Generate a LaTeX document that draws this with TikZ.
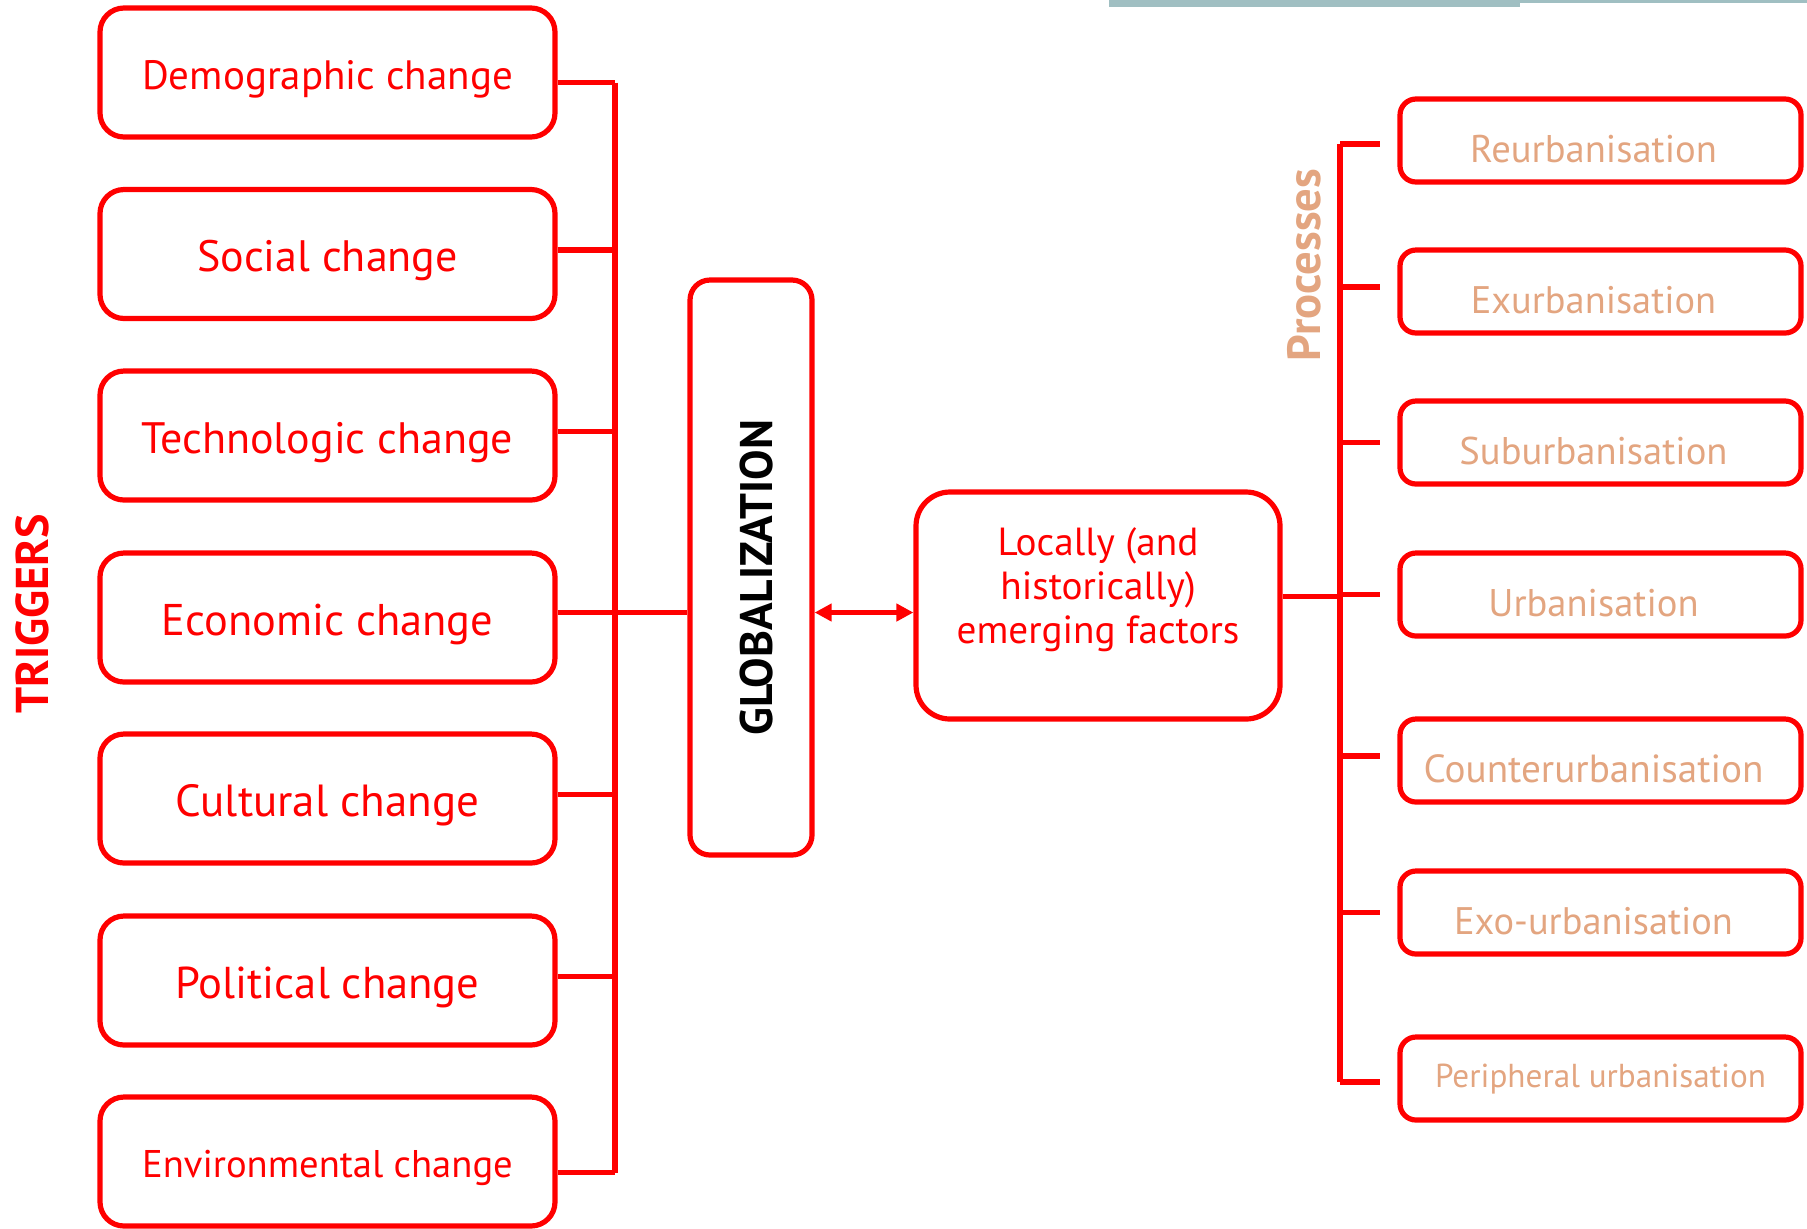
\documentclass[tikz,border=0pt]{standalone}
\usepackage{fontspec}
\setmainfont{PT Sans}
\usetikzlibrary{arrows.meta}
\definecolor{rd}{RGB}{255,0,0}
\definecolor{sal}{RGB}{227,165,128}
\definecolor{barc}{RGB}{160,191,194}
\newcommand{\fs}[1]{\fontsize{#1}{1.2\dimexpr #1pt\relax}\selectfont}
% centre the capitals, then lower them by #1
\newcommand{\sh}[2]{\raisebox{\dimexpr-0.35em-#1\relax}[0pt][0pt]{#2}}
\newcommand{\ltxt}[1]{\sh{1.2pt}{#1}}
\newcommand{\rtxt}[1]{\hspace*{-7pt}\sh{4.2pt}{#1}}
\begin{document}
\begin{tikzpicture}[x=0.5pt,y=-0.5pt,
  box/.style={draw=rd, line width=2.6pt, rounded corners=12pt, text=rd, align=center, inner sep=0pt},
  lbox/.style={box, minimum width=227.5pt, minimum height=64.5pt},
  rbox/.style={box, rounded corners=8pt, minimum width=200.5pt, minimum height=41.5pt, text=sal},
  conn/.style={draw=rd, line width=2.6pt},
  tip/.style={{Triangle[length=8.5pt,width=8.5pt]}-{Triangle[length=8.5pt,width=8.5pt]}}
]
\useasboundingbox (0,0) rectangle (1807,1228);
% top bar
\fill[barc] (1109,0) rectangle (1520,7);
\fill[barc] (1520,0) rectangle (1807,2.5);

% left boxes
\node[lbox, font=\fs{20.5}] (dem)  at (327.5,72.5)  {\ltxt{Demographic change}};
\node[lbox, font=\fs{22}]   (soc)  at (327.5,254)   {\ltxt{Social change}};
\node[lbox, font=\fs{22}]   (tech) at (327.5,435.5) {\ltxt{Technologic change}};
\node[lbox, font=\fs{22.2}] (eco)  at (327.5,617.5) {\ltxt{Economic change}};
\node[lbox, font=\fs{22.5}] (cult) at (327.5,798.5) {\ltxt{Cultural change}};
\node[lbox, font=\fs{22.3}] (pol)  at (327.5,980.5) {\ltxt{Political change}};
\node[lbox, font=\fs{19.3}] (env)  at (327.5,1161.5) {\ltxt{Environmental change}};

\node[rotate=90, text=rd, font=\fs{23}\bfseries] (trig) at (32,614) {TRIGGERS};

% globalization
\node[box, rotate=90, rounded corners=10pt, minimum width=287.5pt, minimum height=61pt, text=black, font=\fs{22.8}\bfseries] (glob) at (751,567.5) {\hspace*{-10pt}\sh{3pt}{GLOBALIZATION}};

% locally
\node[box, rounded corners=17pt, minimum width=182pt, minimum height=113.5pt, text depth=20pt, font=\fontsize{19.6}{22}\selectfont] (loc) at (1098,605.5) {Locally (and\\historically)\\emerging factors};

% right boxes
\node[rbox, font=\fs{19.3}] (r1) at (1600.5,140.5)  {\rtxt{Reurbanisation}};
\node[rbox, font=\fs{19.2}] (r2) at (1600.5,291.5)  {\rtxt{Exurbanisation}};
\node[rbox, font=\fs{19.3}] (r3) at (1600.5,442.5)  {\rtxt{Suburbanisation}};
\node[rbox, font=\fs{19.3}] (r4) at (1600.5,594.5)  {\rtxt{Urbanisation}};
\node[rbox, font=\fs{19.6}] (r5) at (1600.5,760.5)  {\rtxt{Counterurbanisation}};
\node[rbox, font=\fs{19.2}] (r6) at (1600.5,912.5)  {\rtxt{Exo-urbanisation}};
\node[rbox, font=\fs{16.6}] (r7) at (1600.5,1078.5) {\sh{-1.3pt}{Peripheral urbanisation}};

\node[rotate=90, text=sal, font=\fs{23.3}\bfseries] (proc) at (1304,265) {Processes};

% left connectors
\coordinate (lb) at (615,0);
\draw[conn] ([yshift=-5pt]dem.east) -- ([yshift=-5pt]dem.east -| lb);
\draw[conn] ([yshift=2pt]soc.east) -- ([yshift=2pt]soc.east -| lb);
\draw[conn] ([yshift=2pt]tech.east) -- ([yshift=2pt]tech.east -| lb);
\draw[conn] ([yshift=2.5pt]eco.east) -- ([yshift=2.5pt]eco.east -| glob.north);
\draw[conn] ([yshift=2pt]cult.east) -- ([yshift=2pt]cult.east -| lb);
\draw[conn] ([yshift=2pt]pol.east) -- ([yshift=2pt]pol.east -| lb);
\draw[conn] ([yshift=-5.5pt]env.east) -- ([yshift=-5.5pt]env.east -| lb);
\draw[conn] ([yshift=-5pt]dem.east -| lb) -- ([yshift=-5.5pt]env.east -| lb);

% arrow
\draw[conn, tip] ([yshift=2.5pt]eco.east -| glob.south) -- ([yshift=2.5pt]eco.east -| loc.west);

% right connectors
\coordinate (rb) at (1340,0);
\draw[conn] ([yshift=4.5pt]loc.east) -- ([yshift=4.5pt]loc.east -| rb);
\draw[conn] ([yshift=-1.75pt]rb |- r1.west) -- ([yshift=-1.75pt]rb |- r7.west);
\foreach \r/\s in {r1/-1.75,r2/2.3,r3/0,r4/0,r5/2.3,r6/0,r7/-1.75}
  \draw[conn] ([yshift=\s pt]rb |- \r.west) -- ([yshift=\s pt,xshift=-8.5pt]\r.west);
\end{tikzpicture}
\end{document}
